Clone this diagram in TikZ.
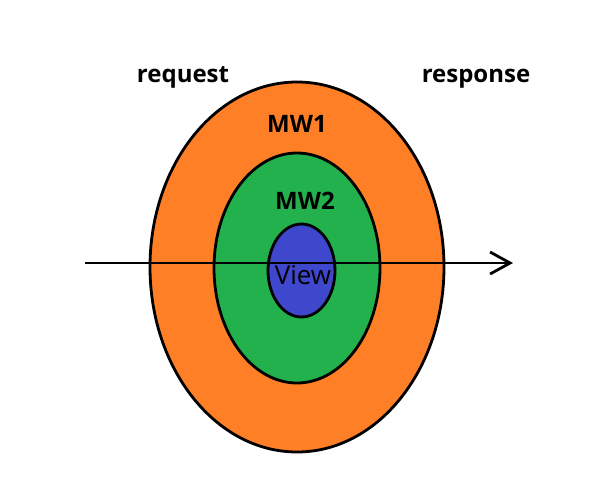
\documentclass[tikz,border=0pt]{standalone}
\usepackage{fontspec}
\setmainfont{Open Sans}
\usetikzlibrary{arrows.meta}
\definecolor{mwone}{RGB}{255,127,39}
\definecolor{mwtwo}{RGB}{34,177,76}
\definecolor{viewc}{RGB}{63,72,204}
\begin{document}
\begin{tikzpicture}[x=1pt,y=-1pt,line width=2.8pt,
    >={Straight Barb[length=20pt,width=22pt]},
    lbl/.style={font=\bfseries\fontsize{24}{28}\selectfont,anchor=base,inner sep=0pt}]
        \useasboundingbox (0,0) rectangle (610,485);
        % layers
        \draw[fill=mwone](297,267) ellipse [x radius=147,y radius=185];
        \draw[fill=mwtwo](297,268) ellipse [x radius=83,y radius=115];
        \draw[fill=viewc](301.5,270.5) ellipse [x radius=33.5,y radius=46.5];
        % flow
        \coordinate (in) at (85,263);
        \coordinate (out) at (513,263);
        \draw[->](in)--(out);
        \node[lbl] (req) at (183,82){request};
        \node[lbl] (resp) at (476,82){response};
        \node[lbl] (mw1) at (297,132){MW1};
        \node[lbl] (mw2) at (305,209){MW2};
        \node[lbl,font=\fontsize{26}{30}\selectfont] (view) at (303,284){View};
    \end{tikzpicture}
\end{document}
